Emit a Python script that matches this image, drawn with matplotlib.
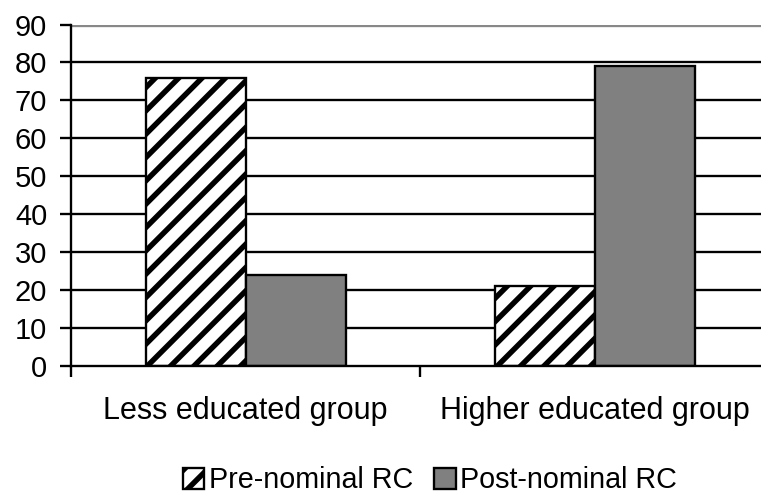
import numpy as np
import matplotlib.pyplot as plt
from matplotlib.ticker import FixedLocator

plt.rcParams['font.family'] = ['Liberation Sans', 'DejaVu Sans']
plt.rcParams['hatch.linewidth'] = 2.8
plt.rcParams['hatch.color'] = '#2b2b2b'

groups = ['Less educated group', 'Higher educated group']
pre_nominal = [76, 21]
post_nominal = [24, 79]
series_names = ['Pre-nominal RC', 'Post-nominal RC']

DPI = 140
fig = plt.figure(figsize=(761 / DPI, 495 / DPI), dpi=DPI)
ax = fig.add_axes([0.0933, 0.2606, 0.9185, 0.6899])

centers = np.arange(len(groups)) + 0.5
w = 0.286
ax.bar(centers - w / 2, pre_nominal, width=w, color='white', edgecolor='black',
       hatch='//', linewidth=1.2, label=series_names[0], zorder=3)
ax.bar(centers + w / 2, post_nominal, width=w, color='#808080', edgecolor='black',
       linewidth=1.2, label=series_names[1], zorder=3)

ax.set_xlim(0, 2)
ax.set_ylim(0, 90)
ax.set_yticks(range(0, 91, 10))
for y in range(10, 81, 10):
    ax.axhline(y, color='black', linewidth=1.2, zorder=1)
ax.axhline(90, color='#888888', linewidth=1.7, zorder=1)

ax.set_xticks(centers)
ax.set_xticklabels(groups)
ax.xaxis.set_minor_locator(FixedLocator([0, 1, 2]))
ax.tick_params(axis='x', which='major', length=0, pad=15.5, labelsize=15.7)
ax.tick_params(axis='x', which='minor', length=5.7, width=1.2, direction='out')
ax.tick_params(axis='y', length=5.7, width=1.2, direction='out', labelsize=15, pad=6.5)

for side in ['top', 'right']:
    ax.spines[side].set_visible(False)
ax.spines['left'].set_linewidth(1.2)
ax.spines['bottom'].set_linewidth(1.2)
ax.spines['bottom'].set_zorder(4)

leg = fig.legend(loc='center', bbox_to_anchor=(0.565, 0.03), ncol=2, frameon=False,
                 fontsize=14.8, handlelength=0.75, handleheight=0.75,
                 handletextpad=0.15, columnspacing=0.75)

fig.savefig('out.png', dpi=DPI)
